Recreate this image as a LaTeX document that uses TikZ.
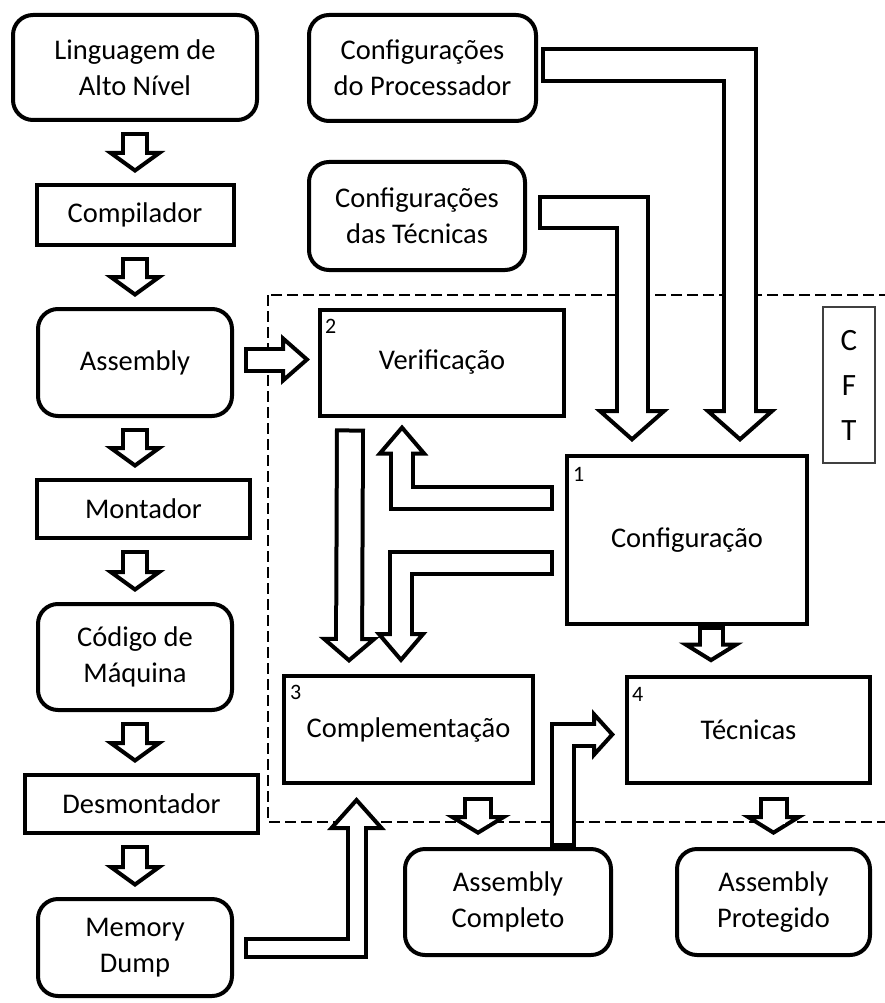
\documentclass[tikz,border=0pt]{standalone}
\usepackage{fontspec}
\setmainfont{Carlito}
\usetikzlibrary{arrows.meta,positioning}

\begin{document}
\begin{tikzpicture}[
    x=1pt, y=-1pt,
    block/.style={
      draw,
      line width=4pt,
      align=center,
      inner sep=2pt,
      font=\fontsize{28.5}{36}\selectfont,
      minimum width=194pt,
      minimum height=106pt,
    },
    rblock/.style={
      block,
      rounded corners=20pt,
    },
    num/.style={
      anchor=north west,
      inner sep=0pt,
      font=\fontsize{22}{22}\selectfont,
    },
    fat/.style n args={3}{
      line width=#1,
      -{Triangle[length=#3, width=#2, fill=white, line width=4pt]},
      postaction={
        draw=white,
        -,
        line width=#1-8pt,
        shorten <=4pt,
        shorten >=#3-9pt,
      },
    },
  ]
  \useasboundingbox (0,0) rectangle (885,1003);

  \node [
    rblock,
    minimum width=244pt,
    minimum height=105pt
  ] (ling) at (135,67.5) {Linguagem de\\Alto Nível};
  \node [
    block,
    below=61pt of ling,
    minimum width=197pt,
    minimum height=60pt
  ] (comp) {Compilador};
  \node [
    rblock,
    below=60pt of comp,
    minimum height=107pt
  ] (asm) {Assembly};
  \node [
    block,
    below=60pt of asm,
    xshift=8.5pt,
    minimum width=213pt,
    minimum height=58pt
  ] (mont) {Montador};
  \node [
    rblock,
    below=62pt of mont,
    xshift=-8.5pt
  ] (cod) {Código de\\Máquina};
  \node [
    block,
    below=61pt of cod,
    xshift=6.5pt,
    minimum width=233pt,
    minimum height=58pt
  ] (desm) {Desmontador};
  \node [
    rblock,
    below=62pt of desm,
    xshift=-6.5pt,
    minimum height=97pt
  ] (mem) {Memory\\Dump};

  \node [
    rblock,
    minimum width=227pt
  ] (proc) at (422.5,68) {Configurações\\do Processador};
  \node [
    rblock,
    minimum width=216pt,
    minimum height=108pt
  ] (tcfg) at (417,216) {Configurações\\das Técnicas};

  \draw [line width=2.8pt, dash pattern=on 11pt off 5pt] (268,295) rectangle (900,822);

  \node [
    block,
    right=84pt of asm,
    minimum width=244pt
  ] (verif) {Verificação};
  \node [
    block,
    minimum width=240pt,
    minimum height=168pt
  ] (config) at (687,540) {Configuração};
  \node [
    block,
    minimum width=249pt,
    minimum height=107pt
  ] (compl) at (408.5,729.5) {Complementação};
  \node [
    block,
    right=90pt of compl,
    minimum width=243pt
  ] (tecn) {Técnicas};
  \node [
    rblock,
    minimum width=206pt
  ] (asmc) at (508,902) {Assembly\\Completo};
  \node [
    rblock,
    right=62pt of asmc,
    minimum width=193pt
  ] (asmp) {Assembly\\Protegido};
  \node [
    draw=black!75,
    line width=1.5pt,
    minimum width=52pt,
    minimum height=156pt,
    align=center,
    font=\fontsize{31}{45}\selectfont
  ] (cft) at (849,385) {C\\F\\T};

  \node [num] (n1) at ([xshift=8pt,yshift=-13pt]config.north west) {1};
  \node [num] (n2) at ([xshift=7pt,yshift=-12pt]verif.north west) {2};
  \node [num] (n3) at ([xshift=8pt,yshift=-11pt]compl.north west) {3};
  \node [num] (n4) at ([xshift=7pt,yshift=-13pt]tecn.north west) {4};

  \draw[fat={28pt}{60pt}{22pt}] ([yshift=-10pt]ling.south) -- ([yshift=10pt]ling.south |- comp.north);
  \draw[fat={28pt}{60pt}{22pt}] ([yshift=-10pt]asm.north |- comp.south) -- ([yshift=10pt]asm.north);
  \draw[fat={28pt}{60pt}{22pt}] ([yshift=-10pt]asm.south) -- ([yshift=10pt]asm.south |- mont.north);
  \draw[fat={28pt}{60pt}{22pt}] ([yshift=-10pt]cod.north |- mont.south) -- ([yshift=10pt]cod.north);
  \draw[fat={28pt}{60pt}{22pt}] ([yshift=-10pt]cod.south) -- ([yshift=10pt]cod.south |- desm.north);
  \draw[fat={28pt}{60pt}{22pt}] ([yshift=-10pt]mem.north |- desm.south) -- ([yshift=10pt]mem.north);

  \draw[fat={26pt}{50pt}{29pt}] ([xshift=10pt,yshift=3pt]asm.east) -- ([xshift=-8pt,yshift=3pt]verif.west);
  \draw[fat={30pt}{60pt}{26pt}] ([xshift=32pt,yshift=-11pt]verif.south west) -- ([xshift=67pt,yshift=11pt]compl.north west);
  \draw[fat={26pt}{52pt}{31pt}] ([xshift=-11pt,yshift=42pt]config.west) -| ([xshift=-40pt,yshift=-7pt]verif.south);
  \draw[fat={26pt}{52pt}{31pt}] ([xshift=-11pt,yshift=-23pt]config.west) -| ([xshift=-7.5pt,yshift=11pt]compl.north);
  \draw[fat={27pt}{64pt}{20pt}] ([xshift=24pt]config.south) -- ([xshift=24pt,yshift=12pt]config.south |- tecn.north);
  \draw[fat={30pt}{64pt}{20pt}] ([yshift=-12pt]asmp.north |- tecn.south) -- ([yshift=12pt]asmp.north);
  \draw[fat={30pt}{65pt}{20pt}] ([xshift=-30pt,yshift=-12pt]asmc.north |- compl.south) -- ([xshift=-30pt,yshift=12pt]asmc.north);
  \draw[fat={26pt}{50pt}{23pt}] ([xshift=55pt]asmc.north) |- ([xshift=-10pt,yshift=-5pt]tecn.west);
  \draw[fat={22pt}{58pt}{33pt}] ([xshift=10pt]mem.east) -| ([xshift=-52pt,yshift=-12pt]compl.south);
  \draw[fat={35pt}{74pt}{33pt}] ([xshift=11pt,yshift=4pt]tcfg.east) -| ([xshift=-55pt,yshift=12pt]config.north);
  \draw[fat={36pt}{74pt}{33pt}] ([xshift=3pt,yshift=3pt]proc.east) -| ([xshift=53pt,yshift=12pt]config.north);
\end{tikzpicture}
\end{document}
